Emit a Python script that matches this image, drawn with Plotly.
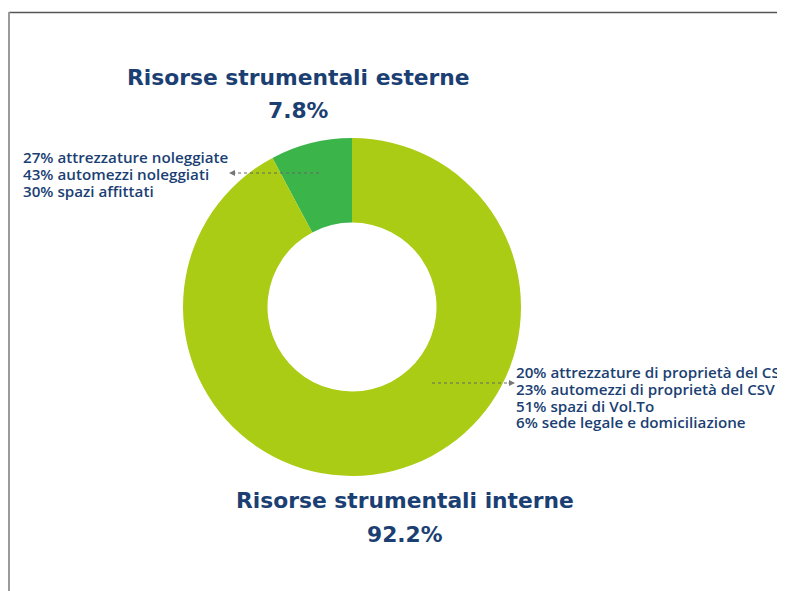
import plotly.graph_objects as go

# The page body has an 8px margin; the figure is offset by that amount.
OFF = 8
W, H = 785 - OFF, 591 - OFF

categories = ["Risorse strumentali esterne", "Risorse strumentali interne"]
values = [7.8, 92.2]
colors = ["#3bb44a", "#aacc14"]
esterne_details = ["27% attrezzature noleggiate", "43% automezzi noleggiati", "30% spazi affittati"]
interne_details = ["20% attrezzature di proprietà del CSV", "23% automezzi di proprietà del CSV",
                   "51% spazi di Vol.To", "6% sede legale e domiciliazione"]

NAVY = "#1b3f73"

def px(x):
    return (x - OFF) / W

def py(y):
    return 1 - (y - OFF) / H

cx, cy, r = 352, 307, 169

fig = go.Figure(go.Pie(
    labels=categories, values=values, hole=0.5, sort=False,
    direction="counterclockwise", rotation=0,
    marker=dict(colors=colors, line=dict(width=0)),
    textinfo="none", hoverinfo="label+percent", showlegend=False,
    domain=dict(x=[px(cx - r), px(cx + r)], y=[py(cy + r), py(cy - r)]),
))
fig.update_traces(direction="clockwise", rotation=-28.08)

ann = []
title_font = dict(family="DejaVu Sans", size=21.8, color=NAVY)
ann.append(dict(x=px(298), y=py(78), text="<b>%s</b>" % categories[0], showarrow=False,
                xanchor="center", yanchor="middle", font=title_font))
ann.append(dict(x=px(298), y=py(111), text="<b>%.1f%%</b>" % values[0], showarrow=False,
                xanchor="center", yanchor="middle", font=title_font))
ann.append(dict(x=px(405), y=py(500), text="<b>%s</b>" % categories[1], showarrow=False,
                xanchor="center", yanchor="middle", font=title_font))
ann.append(dict(x=px(405), y=py(534), text="<b>%.1f%%</b>" % values[1], showarrow=False,
                xanchor="center", yanchor="middle", font=title_font))

small_font = dict(family="Open Sans", size=15.2, color=NAVY, weight=600)
for i, t in enumerate(esterne_details):
    ann.append(dict(x=px(21), y=py(157 + 17 * i), text=t, showarrow=False,
                    xanchor="left", yanchor="middle", font=small_font))
for i, t in enumerate(interne_details):
    ann.append(dict(x=px(514), y=py(372 + 16.8 * i), text=t, showarrow=False,
                    xanchor="left", yanchor="middle", font=small_font))

# arrowheads
ann.append(dict(x=px(229), y=py(173), ax=8, ay=0, xref="paper", yref="paper", text="",
                showarrow=True, arrowhead=2, arrowsize=1.2, arrowwidth=1, arrowcolor="#777"))
ann.append(dict(x=px(515), y=py(383), ax=-8, ay=0, xref="paper", yref="paper", text="",
                showarrow=True, arrowhead=2, arrowsize=1.2, arrowwidth=1, arrowcolor="#777"))

shapes = [
    dict(type="line", xref="paper", yref="paper", x0=px(232), x1=px(322), y0=py(173), y1=py(173),
         line=dict(color="#666", width=1, dash="dot")),
    dict(type="line", xref="paper", yref="paper", x0=px(432), x1=px(512), y0=py(383), y1=py(383),
         line=dict(color="#666", width=1, dash="dot")),
    # screenshot frame
    dict(type="line", xref="paper", yref="paper", x0=px(9), x1=px(784), y0=py(12.5), y1=py(12.5),
         line=dict(color="#555555", width=1.5)),
    dict(type="line", xref="paper", yref="paper", x0=px(9), x1=px(9), y0=py(12), y1=py(591),
         line=dict(color="#9a9a9a", width=2)),
]

fig.update_layout(width=W, height=H, margin=dict(l=0, r=0, t=0, b=0),
                  paper_bgcolor="white", plot_bgcolor="white",
                  annotations=ann, shapes=shapes)
fig.write_html("out.html")
